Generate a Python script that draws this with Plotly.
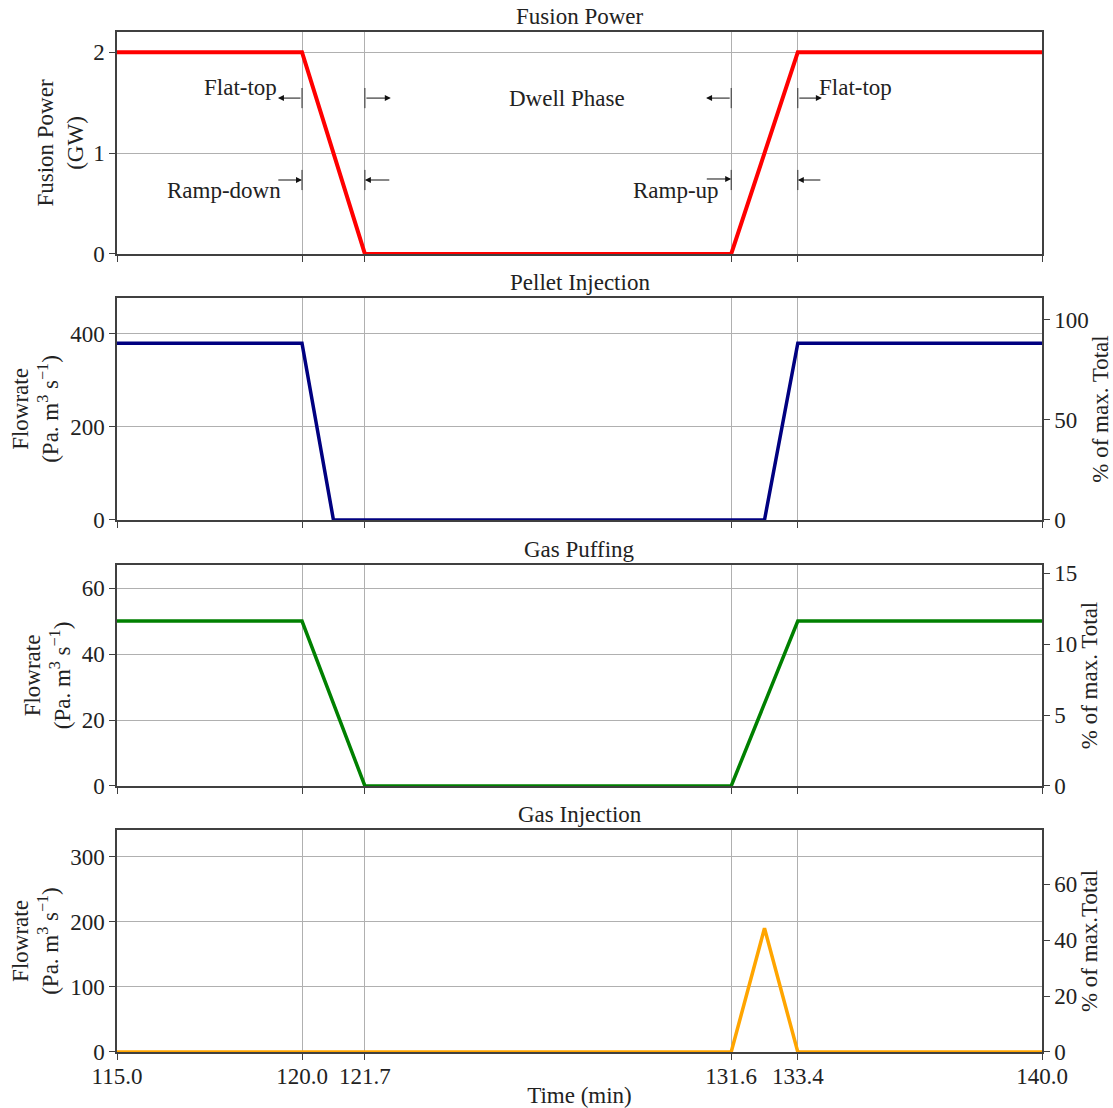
import plotly.graph_objects as go
from plotly.subplots import make_subplots

# Time axis (min) and phase boundaries
time_ticks = [115.0, 120.0, 121.7, 131.6, 133.4, 140.0]
tick_text = ["115.0", "120.0", "121.7", "131.6", "133.4", "140.0"]

# Fusion power (GW)
power_t = [115.0, 120.0, 121.7, 131.6, 133.4, 140.0]
power_v = [2.0, 2.0, 0.0, 0.0, 2.0, 2.0]

# Pellet injection (Pa m3 s-1)
pellet_t = [115.0, 120.0, 120.85, 132.5, 133.4, 140.0]
pellet_v = [380, 380, 0, 0, 380, 380]

# Gas puffing (Pa m3 s-1)
puff_t = [115.0, 120.0, 121.7, 131.6, 133.4, 140.0]
puff_v = [50, 50, 0, 0, 50, 50]

# Gas injection (Pa m3 s-1)
inj_t = [115.0, 131.6, 132.5, 133.4, 140.0]
inj_v = [0, 0, 190, 0, 0]

# Maximum total flow used for the percentage axes
max_total = 430.0

FONT = "Liberation Serif"
FS = 23
TXT = "#222"

fig = make_subplots(
    rows=4, cols=1, shared_xaxes=False,
    specs=[[{"secondary_y": False}], [{"secondary_y": True}],
           [{"secondary_y": True}], [{"secondary_y": True}]],
)

fig.add_trace(go.Scatter(x=power_t, y=power_v, mode="lines",
                         line=dict(color="#ff0000", width=4)), row=1, col=1)

series = [
    (pellet_t, pellet_v, "#000080", 2),
    (puff_t, puff_v, "#008000", 3),
    (inj_t, inj_v, "#ffa500", 4),
]
for t, v, c, row in series:
    fig.add_trace(go.Scatter(x=t, y=v, mode="lines",
                             line=dict(color=c, width=3.5)), row=row, col=1,
                  secondary_y=False)
    # same series expressed as a share of the maximum total flow
    fig.add_trace(go.Scatter(x=t, y=[val / max_total * 100 for val in v], mode="lines",
                             line=dict(color="rgba(0,0,0,0)", width=0),
                             hoverinfo="skip"), row=row, col=1, secondary_y=True)

# Panel geometry (paper fractions)
domains = [[0.7824, 1.0], [0.5216, 0.7392], [0.2608, 0.4775], [0.0, 0.2176]]
left_ranges = [[0, 2.2], [0, 477], [0, 67], [0, 341]]
left_ticks = [[0, 1, 2], [0, 200, 400], [0, 20, 40, 60], [0, 100, 200, 300]]
right_ticks = [None, [0, 50, 100], [0, 5, 10, 15], [0, 20, 40, 60]]
right_titles = [None, "% of max. Total", "% of max. Total", "% of max.Total"]
left_titles = ["Fusion Power<br>(GW)"] + ["Flowrate<br>(Pa. m<sup>3</sup> s<sup>\u22121</sup>)"] * 3
left_standoff = [3, 5, 5, 5]
panel_titles = ["Fusion Power", "Pellet Injection", "Gas Puffing", "Gas Injection"]

axis_line = "#404040"
grid_col = "#b0b0b0"
tick_font = dict(family=FONT, size=FS, color=TXT)

layout_updates = {}
left_names = ["yaxis", "yaxis2", "yaxis4", "yaxis6"]
right_names = [None, "yaxis3", "yaxis5", "yaxis7"]
x_names = ["xaxis", "xaxis2", "xaxis3", "xaxis4"]

for i in range(4):
    layout_updates[x_names[i]] = dict(
        domain=[0, 1], range=[115, 140], tickmode="array",
        tickvals=time_ticks, ticktext=tick_text, showticklabels=(i == 3),
        ticks="outside", ticklen=6, tickcolor=axis_line,
        showgrid=True, gridcolor=grid_col, gridwidth=1,
        showline=True, linecolor=axis_line, linewidth=1.5, mirror=True,
        zeroline=False, tickfont=tick_font, automargin=False,
    )
    layout_updates[left_names[i]] = dict(
        domain=domains[i], range=left_ranges[i], tickmode="array",
        tickvals=left_ticks[i], ticks="outside", ticklen=6, tickcolor=axis_line,
        showgrid=True, gridcolor=grid_col, gridwidth=1,
        showline=True, linecolor=axis_line, linewidth=1.5, mirror=True,
        zeroline=False, tickfont=tick_font, automargin=False,
        title=dict(text=left_titles[i], font=dict(family=FONT, size=FS, color=TXT),
                   standoff=left_standoff[i]),
    )
    if right_names[i]:
        r = left_ranges[i]
        layout_updates[right_names[i]] = dict(
            range=[r[0] / max_total * 100, r[1] / max_total * 100],
            tickmode="array", tickvals=right_ticks[i], ticks="outside", ticklen=6,
            tickcolor=axis_line, showgrid=False, zeroline=False,
            showline=True, linecolor=axis_line, linewidth=1.5,
            tickfont=tick_font, side="right", automargin=False,
            title=dict(text=right_titles[i], font=dict(family=FONT, size=FS, color=TXT),
                       standoff=4),
        )

layout_updates["xaxis4"]["ticklabelstandoff"] = -3
layout_updates["xaxis4"]["title"] = dict(text="Time (min)",
                                         font=dict(family=FONT, size=FS, color=TXT),
                                         standoff=3)

fig.update_layout(**layout_updates)

annotations = []
for i in range(4):
    annotations.append(dict(
        text=panel_titles[i], x=0.5, y=domains[i][1], xref="paper", yref="paper",
        xanchor="center", yanchor="bottom", yshift=1, showarrow=False,
        font=dict(family=FONT, size=FS, color=TXT),
    ))

# Phase labels on the fusion power panel
phase_text = [
    ("Flat-top", 118.35, 1.65),
    ("Dwell Phase", 127.16, 1.545),
    ("Flat-top", 134.95, 1.65),
    ("Ramp-down", 117.9, 0.63),
    ("Ramp-up", 130.1, 0.63),
]
for txt, x, y in phase_text:
    annotations.append(dict(text=txt, x=x, y=y, xref="x", yref="y",
                            showarrow=False, xanchor="center", yanchor="middle",
                            font=dict(family=FONT, size=FS, color=TXT)))

# Arrows marking the phase boundaries: (tail_x, head_x, y)
phase_arrows = [
    (120.0, 119.35, 1.545),
    (121.7, 122.4, 1.545),
    (131.6, 130.92, 1.545),
    (133.4, 134.05, 1.545),
    (119.32, 120.0, 0.733),
    (122.4, 121.7, 0.733),
    (130.9, 131.6, 0.743),
    (134.05, 133.4, 0.733),
]
for tx, hx, y in phase_arrows:
    annotations.append(dict(text="", x=hx, y=y, ax=tx, ay=y, xref="x", yref="y",
                            axref="x", ayref="y", showarrow=True, arrowhead=2,
                            arrowsize=1.2, arrowwidth=1, arrowcolor="#111",
                            standoff=0, startstandoff=0))

fig.update_layout(annotations=annotations)

# Short boundary bars at the arrow tails
for bx in [120.0, 121.7, 131.6, 133.4]:
    for yc in [1.545, 0.733]:
        fig.add_shape(type="line", x0=bx, x1=bx, y0=yc - 0.1, y1=yc + 0.1,
                      xref="x", yref="y", line=dict(color="#333", width=1))

fig.update_layout(
    width=1113, height=1108,
    margin=dict(l=117, r=71, t=32, b=56),
    paper_bgcolor="white", plot_bgcolor="white",
    showlegend=False,
    font=dict(family=FONT, size=FS, color=TXT),
)

fig.write_html("out.html")
